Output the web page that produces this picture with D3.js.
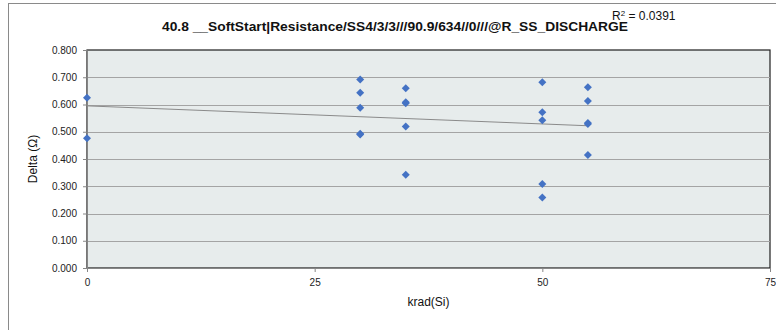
<!DOCTYPE html>
<html><head><meta charset="utf-8">
<script src="https://cdn.jsdelivr.net/npm/d3@7"></script>
<style>body{margin:0;background:#fff}svg{display:block}</style>
</head><body><svg id="c" width="776" height="330"></svg>
<script>
const xValues = [0,0, 30,30,30,30,30, 35,35,35,35,35, 50,50,50,50,50, 55,55,55,55,55];
const yValues = [0.625,0.476, 0.692,0.643,0.588,0.493,0.490, 0.660,0.608,0.605,0.519,0.342, 0.682,0.572,0.542,0.308,0.259, 0.663,0.613,0.532,0.528,0.415];
const trendX = [0, 55];
const trendY = [0.595, 0.522];
const xTicks = [0, 25, 50, 75];
const yTicks = [0,0.1,0.2,0.3,0.4,0.5,0.6,0.7,0.8];
const titleText = "40.8  __SoftStart|Resistance/SS4/3/3///90.9/634//0///@R_SS_DISCHARGE";
const r2Value = "0.0391";

const svg = d3.select("#c");
const font = "'Liberation Sans', Arial, sans-serif";
const L = 87, R = 770, T = 50, B = 268;
const x = d3.scaleLinear().domain([0,75]).range([L,R]);
const y = d3.scaleLinear().domain([0,0.8]).range([B,T]);

// outer frame
svg.append("rect").attr("x",8.5).attr("y",3.5).attr("width",900).attr("height",500)
  .attr("fill","#fff").attr("stroke","#8a8a8a");

// plot area
svg.append("rect").attr("x",L).attr("y",T).attr("width",R-L).attr("height",B-T)
  .attr("fill","#e7ecec").attr("stroke","#1e1e1e").attr("stroke-width",1.2);

// gridlines
svg.append("g").selectAll("line").data(yTicks.slice(1,-1)).join("line")
  .attr("x1",L).attr("x2",R).attr("y1",d=>Math.round(y(d))+0.5).attr("y2",d=>Math.round(y(d))+0.5)
  .attr("stroke","#a4a4a4").attr("stroke-width",1);

// y axis
const ya = svg.append("g").attr("transform",`translate(${L},0)`)
  .call(d3.axisLeft(y).tickValues(yTicks).tickFormat(d3.format(".3f")).tickSize(4).tickPadding(6));
ya.select(".domain").attr("stroke","#868686");
ya.selectAll(".tick line").attr("stroke","#868686");
ya.selectAll("text").attr("font-family",font).attr("font-size",10).attr("fill","#222");

// x axis
const xa = svg.append("g").attr("transform",`translate(0,${B})`)
  .call(d3.axisBottom(x).tickValues(xTicks).tickFormat(d3.format("d")).tickSize(4).tickPadding(7));
xa.select(".domain").attr("stroke","#868686");
xa.selectAll(".tick line").attr("stroke","#868686");
xa.selectAll("text").attr("font-family",font).attr("font-size",10).attr("fill","#222");

// trend line
svg.append("line").attr("x1",x(trendX[0])).attr("x2",x(trendX[1]))
  .attr("y1",y(trendY[0])).attr("y2",y(trendY[1]))
  .attr("stroke","#8a8a8a").attr("stroke-width",1);

// points
const pts = xValues.map((v,i)=>({x:v,y:yValues[i]}));
svg.append("g").selectAll("path").data(pts).join("path")
  .attr("d","M0,-4L4,0L0,4L-4,0Z")
  .attr("transform",d=>`translate(${x(d.x)},${y(d.y)})`)
  .attr("fill","#4472c4");

// title
svg.append("text").attr("x",395).attr("y",31).attr("text-anchor","middle")
  .attr("font-family",font).attr("font-size",13).attr("font-weight","bold").attr("fill","#111")
  .attr("textLength",466).attr("lengthAdjust","spacingAndGlyphs").text(titleText);

// R squared
const r2 = svg.append("text").attr("x",612).attr("y",20)
  .attr("font-family",font).attr("font-size",12).attr("fill","#111");
r2.append("tspan").text("R");
r2.append("tspan").attr("dy",-4).attr("font-size",8).text("2");
r2.append("tspan").attr("dy",4).text(" = " + r2Value);

// axis titles
svg.append("text").attr("x",(L+R)/2).attr("y",306).attr("text-anchor","middle")
  .attr("font-family",font).attr("font-size",12).attr("fill","#111").text("krad(Si)");
svg.append("text").attr("transform",`translate(37,${(T+B)/2}) rotate(-90)`).attr("text-anchor","middle")
  .attr("font-family",font).attr("font-size",12).attr("fill","#111").text("Delta (Ω)");
</script></body></html>
